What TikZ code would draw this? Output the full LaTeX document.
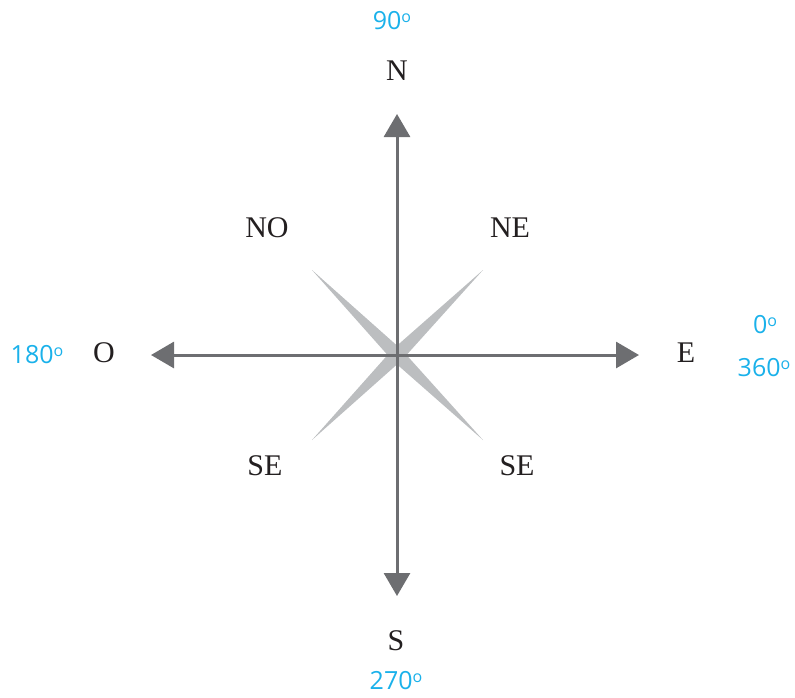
\documentclass[tikz,border=0pt]{standalone}
\usepackage{fontspec}
\setmainfont{Liberation Serif}
\newfontfamily\numfont{Open Sans}
\usetikzlibrary{arrows.meta}
\definecolor{arrowgray}{HTML}{6D6E71}
\definecolor{spikegray}{HTML}{BCBEC0}
\definecolor{degblue}{HTML}{1AB1EA}
\definecolor{txt}{HTML}{231F20}
\newcommand{\dg}{\raisebox{0.55ex}{\fontsize{16}{16}\selectfont o}}
\tikzset{
  axis/.style={draw=arrowgray, line width=3pt, {Triangle[width=26pt,length=23pt]}-{Triangle[width=26pt,length=23pt]}},
  spike/.style={fill=spikegray, draw=none},
  lbl/.style={inner sep=0pt, font=\fontsize{30}{34}\selectfont, text=txt},
  deg/.style={inner sep=0pt, font=\numfont\fontsize{25}{28}\selectfont, text=degblue, align=center}
}
\begin{document}
\begin{tikzpicture}[x=1pt,y=-1pt]
\useasboundingbox (0,0) rectangle (795,697);
\coordinate (C) at (397,355);
\coordinate (NT) at (397,114);
\coordinate (ST) at (397,596);
\coordinate (WT) at (151,355);
\coordinate (ET) at (639,355);
% diagonal spikes
\fill[spike] (312,270) -- (402,350) -- (483,440) -- (392,360) -- cycle;
\fill[spike] (483,270) -- (402,360) -- (312,440) -- (392,350) -- cycle;
% axes
\draw[axis] (ST) -- (NT);
\draw[axis] (WT) -- (ET);
% labels
\node[lbl] (N) at (397,71) {N};
\node[lbl] (S) at (396,641) {S};
\node[lbl] (E) at (686,353) {E};
\node[lbl] (O) at (104,353) {O};
\node[lbl] (NO) at (267,228) {NO};
\node[lbl] (NE) at (510,228) {NE};
\node[lbl] (SW) at (265,466) {SE};
\node[lbl] (SE) at (517,466) {SE};
\node[deg] (d90) at (392,21) {90\dg};
\node[deg] (d270) at (396,681) {270\dg};
\node[deg] (d180) at (37,355) {180\dg};
\node[deg] (d0) at (765,325) {0\dg};
\node[deg] (d360) at (764,368) {360\dg};
\end{tikzpicture}
\end{document}
